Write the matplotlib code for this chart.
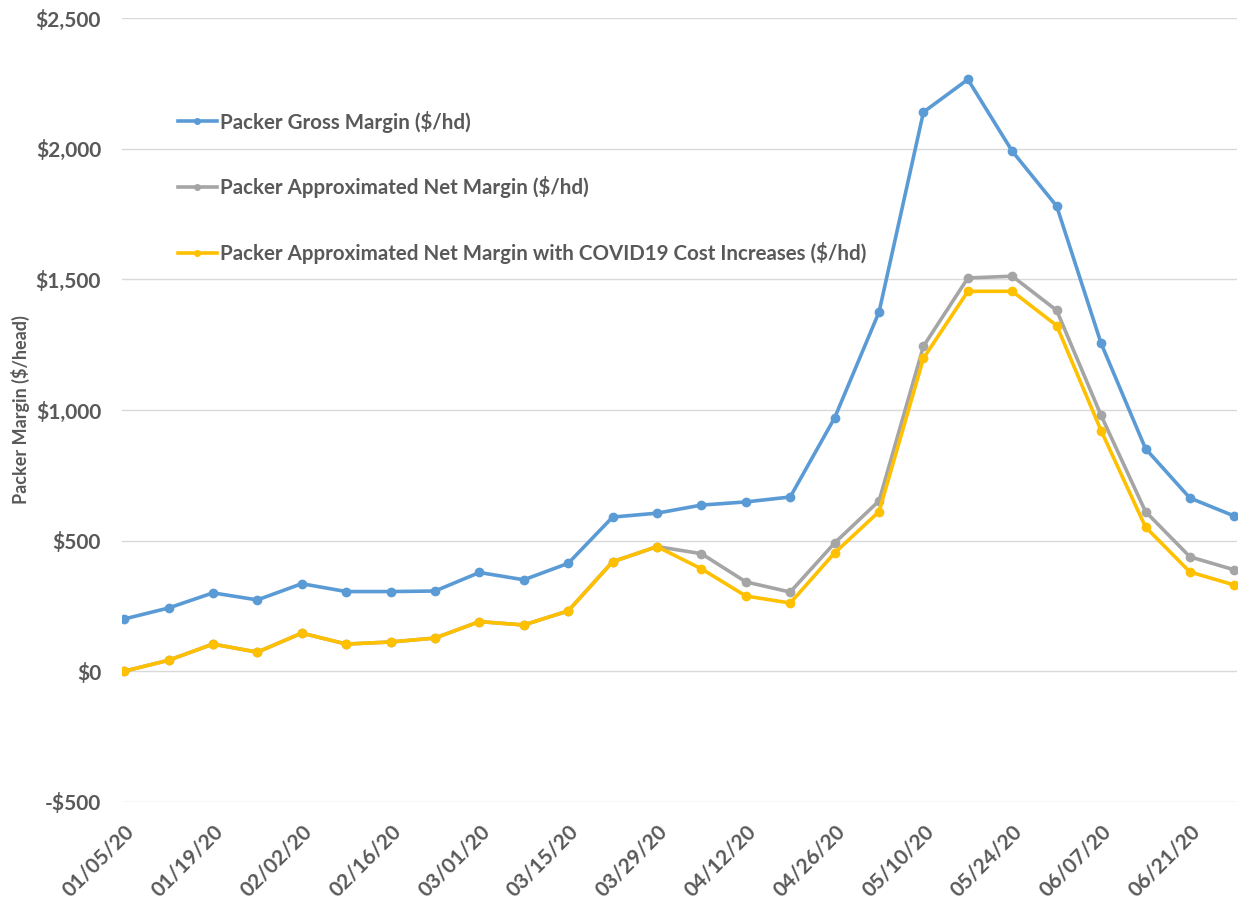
import matplotlib.pyplot as plt
from matplotlib.ticker import FuncFormatter

# weekly packer margins, $/head
weeks = ["01/05/20", "01/12/20", "01/19/20", "01/26/20", "02/02/20", "02/09/20",
         "02/16/20", "02/23/20", "03/01/20", "03/08/20", "03/15/20", "03/22/20",
         "03/29/20", "04/05/20", "04/12/20", "04/19/20", "04/26/20", "05/03/20",
         "05/10/20", "05/17/20", "05/24/20", "05/31/20", "06/07/20", "06/14/20",
         "06/21/20", "06/28/20"]

gross = [200, 242, 300, 273, 335, 305, 305, 307, 378, 350, 413, 590,
         605, 636, 648, 667, 970, 1375, 2140, 2265, 1990, 1780, 1255, 852,
         663, 594]

net = [0, 42, 104, 73, 146, 104, 112, 127, 190, 177, 231, 419,
       477, 450, 342, 303, 491, 652, 1244, 1505, 1512, 1381, 979, 611,
       438, 388]

net_covid = [0, 42, 104, 73, 146, 104, 112, 127, 190, 177, 231, 419,
             477, 392, 288, 261, 453, 611, 1198, 1454, 1454, 1323, 921, 552,
             380, 330]

labels = ["Packer Gross Margin ($/hd)",
          "Packer Approximated Net Margin ($/hd)",
          "Packer Approximated Net Margin with COVID19 Cost Increases ($/hd)"]
colors = ["#5B9BD5", "#A5A5A5", "#FFC000"]

plt.rcParams['font.family'] = ['Lato', 'DejaVu Sans']
txt = "#595959"

fig = plt.figure(figsize=(12.44, 9.01), dpi=100)
ax = fig.add_axes([0.098, 0.110, 0.896, 0.870])

x = list(range(len(weeks)))
for y, lab, c in zip([gross, net, net_covid], labels, colors):
    ax.plot(x, y, color=c, lw=2.6, marker='o', ms=6, label=lab,
            solid_joinstyle='round')

ax.set_ylim(-500, 2500)
ax.set_yticks(range(-500, 2501, 500))
ax.yaxis.set_major_formatter(FuncFormatter(
    lambda v, p: ("-$" if v < 0 else "$") + f"{abs(int(v)):,}"))
ax.set_xlim(-0.05, len(weeks) - 0.95)
ax.set_xticks(x[::2])
ax.set_xticklabels(weeks[::2], rotation=45, ha='right', rotation_mode='anchor')

ax.grid(axis='y', color='#D9D9D9', lw=1)
ax.set_axisbelow(True)
for s in ax.spines.values():
    s.set_visible(False)
ax.tick_params(length=0, labelsize=15, labelcolor=txt)
ax.tick_params(axis='y', pad=15)
ax.tick_params(axis='x', pad=14)
for t in ax.get_xticklabels() + ax.get_yticklabels():
    t.set_fontweight('bold')

ax.set_ylabel("Packer Margin ($/head)", fontsize=13, fontweight='bold',
              color=txt, labelpad=4)

leg = ax.legend(loc='upper left', bbox_to_anchor=(0.05, 0.882), frameon=False,
                borderaxespad=0, borderpad=0, labelspacing=2.13,
                handlelength=1.9, handletextpad=0.15,
                prop={'size': 14.8, 'weight': 'bold'})
for t in leg.get_texts():
    t.set_color(txt)
for h in leg.get_lines():
    h.set_markersize(4)

fig.savefig("out.png", dpi=100)
